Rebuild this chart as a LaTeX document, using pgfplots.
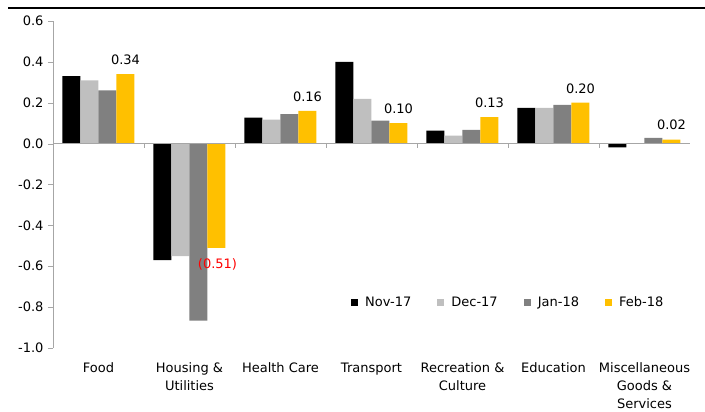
\documentclass[border=0pt]{standalone}
\usepackage{fontspec}
\setmainfont{DejaVu Sans}
\usepackage{pgfplots}
\pgfplotsset{compat=1.18}
\definecolor{lgray}{RGB}{191,191,191}
\definecolor{dgray}{RGB}{128,128,128}
\definecolor{gold}{RGB}{255,192,0}
\definecolor{axgray}{RGB}{166,166,166}
\begin{document}
\fontsize{13}{18}\selectfont
\begin{tikzpicture}[x=1pt,y=1pt]
\useasboundingbox (0,0) rectangle (705,412);
\draw[line width=2.8pt] (8,404) -- (705,404);
\begin{axis}[
  at={(53pt,64pt)}, anchor=south west,
  scale only axis, width=637pt, height=327pt,
  ymin=-1, ymax=0.6, xmin=-0.5, xmax=6.5,
  ybar=0pt, bar width=18pt,
  axis y line=left, axis x line=bottom,
  x axis line style={draw=none},
  y axis line style={-, draw=axgray},
  ytick={-1,-0.8,-0.6,-0.4,-0.2,0,0.2,0.4,0.6},
  /pgf/number format/assume math mode=true,
  yticklabel style={/pgf/number format/.cd, fixed, fixed zerofill, precision=1},
  tick align=outside,
  major tick length=5pt,
  ytick style={draw=axgray},
  xtick={0,...,6},
  xtick style={draw=none},
  xticklabels={Food, Housing \&\\Utilities, Health Care, Transport, Recreation \&\\Culture, Education, Miscellaneous\\Goods \&\\Services},
  xticklabel style={align=center, yshift=-5.5pt},
  legend columns=4,
  legend style={at={(0.463,0.1385)}, anchor=west, draw=none, fill=none,
    /tikz/every odd column/.append style={column sep=5pt},
    /tikz/every even column/.append style={column sep=24pt}},
  legend image code/.code={\fill[#1] (0pt,-3.5pt) rectangle (7pt,3.5pt);},
]
\addplot[fill=black, draw=none] coordinates {(0,0.33) (1,-0.57) (2,0.127) (3,0.40) (4,0.064) (5,0.175) (6,-0.018)};
\addplot[fill=lgray, draw=none] coordinates {(0,0.31) (1,-0.55) (2,0.118) (3,0.219) (4,0.039) (5,0.175) (6,0.003)};
\addplot[fill=dgray, draw=none] coordinates {(0,0.26) (1,-0.866) (2,0.144) (3,0.113) (4,0.067) (5,0.19) (6,0.028)};
\addplot[fill=gold, draw=none, nodes near coords, point meta=explicit symbolic,
  nodes near coords style={text=black, yshift=5pt}] coordinates {(0,0.34) [0.34] (1,-0.51) [] (2,0.16) [0.16] (3,0.10) [0.10] (4,0.13) [0.13] (5,0.20) [0.20] (6,0.02) [0.02]};
\addplot[forget plot, draw=none, fill=none, bar shift=27pt, nodes near coords, point meta=explicit symbolic,
  nodes near coords style={text=red, anchor=north, yshift=-6pt, xshift=1pt}] coordinates {(1,-0.51) [(0.51)]};
\draw[axgray] (axis cs:-0.5,0) -- (axis cs:6.5,0);
\draw[axgray] (axis cs:0.5,0) -- ([yshift=-4pt]axis cs:0.5,0);
\draw[axgray] (axis cs:1.5,0) -- ([yshift=-4pt]axis cs:1.5,0);
\draw[axgray] (axis cs:2.5,0) -- ([yshift=-4pt]axis cs:2.5,0);
\draw[axgray] (axis cs:3.5,0) -- ([yshift=-4pt]axis cs:3.5,0);
\draw[axgray] (axis cs:4.5,0) -- ([yshift=-4pt]axis cs:4.5,0);
\draw[axgray] (axis cs:5.5,0) -- ([yshift=-4pt]axis cs:5.5,0);
\draw[axgray] (axis cs:6.5,0) -- ([yshift=-4pt]axis cs:6.5,0);
\legend{Nov-17, Dec-17, Jan-18, Feb-18}
\end{axis}
\end{tikzpicture}
\end{document}
